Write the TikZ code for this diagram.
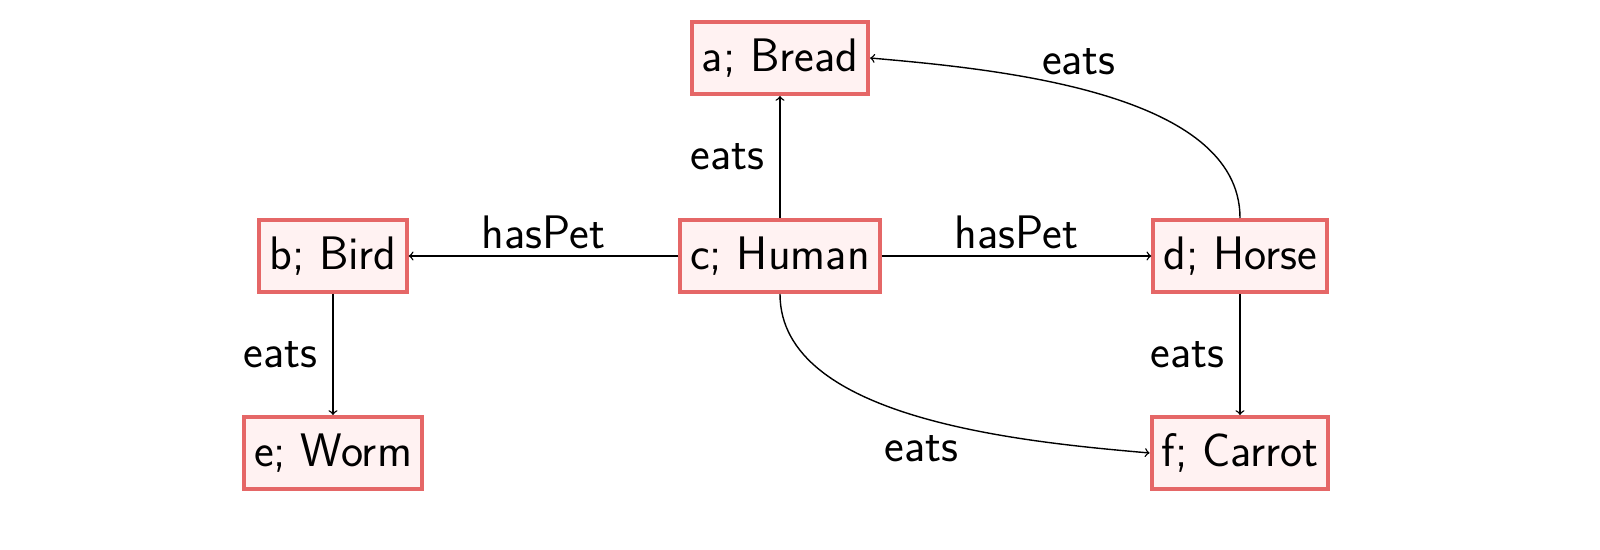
\documentclass[tikz,border=0pt]{standalone}
\begin{document}
\begin{tikzpicture}[x=0.5pt,y=-0.5pt,
  box/.style={draw=red!55!white!90!black, line width=2pt, fill=red!5, minimum height=36pt, inner xsep=5pt, font=\fontsize{23.5}{28}\selectfont\sffamily},
  lbl/.style={font=\fontsize{23.5}{28}\selectfont\sffamily},
  edge/.style={->, line width=0.7pt}]
\useasboundingbox (0,0) rectangle (1600,550);
\node[box] (a) at (780,58) {a; Bread};
\node[box] (b) at (333,256) {b; Bird};
\node[box] (c) at (780,256) {c; Human};
\node[box] (d) at (1240,256) {d; Horse};
\node[box] (e) at (333,453) {e; Worm};
\node[box] (f) at (1240,453) {f; Carrot};
\draw[edge] (c) -- node[lbl, left, xshift=-4pt] {eats} (a);
\draw[edge] (c) -- node[lbl, above] {hasPet} (b);
\draw[edge] (c) -- node[lbl, above] {hasPet} (d);
\draw[edge] (b) -- node[lbl, left, xshift=-4pt] {eats} (e);
\draw[edge] (d) -- node[lbl, left, xshift=-4pt] {eats} (f);
\draw[edge] (d.north) to[out=90,in=-5,looseness=0.8] node[lbl, pos=0.6, above right, xshift=-10pt] {eats} (a.east);
\draw[edge] (c.south) to[out=-90,in=175,looseness=0.8] node[lbl, pos=0.6, below left] {eats} (f.west);
\end{tikzpicture}
\end{document}
